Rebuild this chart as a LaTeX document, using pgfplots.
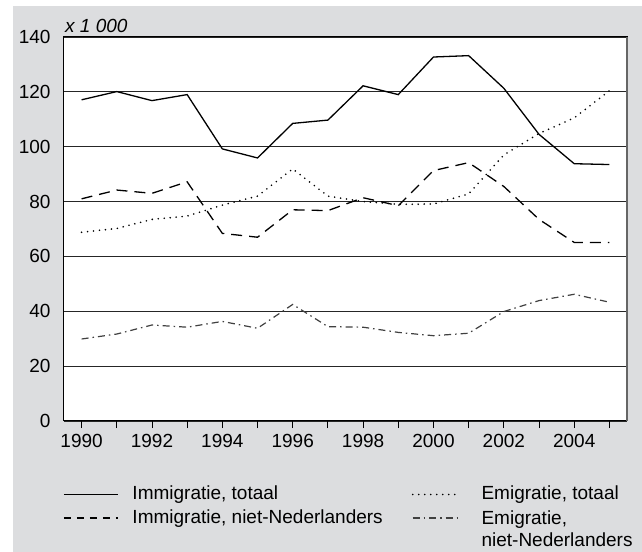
\documentclass[border=0pt]{standalone}
\usepackage{fontspec}
\setmainfont{Liberation Sans}
\usepackage{pgfplots}
\pgfplotsset{compat=1.18}
\definecolor{bg}{RGB}{220,221,223}
\pgfplotsset{
  longleg/.style={legend image code/.code={\draw[##1] (0bp,0bp) -- (54bp,0bp);}},
  dashleg/.style={legend image code/.code={\draw[##1, dash pattern=on 7bp off 6bp] (0bp,0bp) -- (54bp,0bp);}},
  shortleg/.style={legend image code/.code={\draw[##1] (0bp,0bp) -- (47bp,0bp); \path (54bp,0bp);}},
}
\begin{document}
\fontsize{19bp}{23bp}\selectfont
\begin{tikzpicture}[x=1bp,y=1bp]
\useasboundingbox (-64,-131) rectangle (578,421);
\fill[white] (-64,-131) rectangle (578,421);
\fill[bg] (-51,-131) rectangle (578,415);
\begin{axis}[
  at={(0,0)}, anchor=south west,
  scale only axis, width=563bp, height=384bp,
  xmin=1989.5, xmax=2005.5, ymin=0, ymax=140,
  clip mode=individual,
  axis background/.style={fill=white},
  axis line style={black, line width=1bp},
  ymajorgrids, grid style={black!85, line width=0.9bp},
  ytick={0,20,...,140}, ytick style={draw=none},
  xtick={1990,1992,...,2004}, minor xtick={1991,1993,...,2005},
  xtick pos=left, tick align=outside,
  major tick length=7bp, minor tick length=7bp,
  xtick style={black, line width=0.9bp},
  /pgf/number format/1000 sep={},
  /pgf/number format/assume math mode=true,
  ticklabel style={font=\fontsize{19bp}{23bp}\selectfont},
  legend columns=2, legend cell align=left,
  legend style={at={(0,0)}, anchor=north west, xshift=-1bp, yshift=-63bp,
    draw=none, fill=none, inner sep=0pt, row sep=2bp,
    font=\fontsize{19bp}{22bp}\selectfont,
    /tikz/every odd column/.append style={column sep=12bp},
    /tikz/every even column/.append style={column sep=27bp}},
]
\addplot[black, line width=1.3bp, longleg] coordinates {
(1990,117.1)(1991,120.1)(1992,116.8)(1993,119.0)(1994,99.2)(1995,95.9)(1996,108.5)(1997,109.7)
(1998,122.2)(1999,119.0)(2000,132.7)(2001,133.2)(2002,121.3)(2003,104.5)(2004,93.8)(2005,93.5)};
\addlegendentry{Immigratie, totaal}
\addplot[black, line width=1.8bp, line cap=round, dash pattern=on 0bp off 6bp, shortleg] coordinates {
(1990,68.8)(1991,70.2)(1992,73.5)(1993,74.7)(1994,78.7)(1995,82.0)(1996,91.9)(1997,82.0)
(1998,80.0)(1999,79.0)(2000,79.1)(2001,82.8)(2002,97.0)(2003,104.8)(2004,110.5)(2005,120.4)};
\addlegendentry{Emigratie, totaal}
\addplot[black, line width=1.3bp, dash pattern=on 11bp off 7bp, dashleg] coordinates {
(1990,81.0)(1991,84.2)(1992,83.0)(1993,87.2)(1994,68.4)(1995,67.0)(1996,77.0)(1997,76.7)
(1998,81.4)(1999,78.5)(2000,91.3)(2001,94.2)(2002,85.5)(2003,73.5)(2004,65.1)(2005,65.1)};
\addlegendentry{Immigratie, niet-Nederlanders}
\addplot[black!75, line width=1.2bp, dash pattern=on 7bp off 4bp on 1.5bp off 4bp, shortleg] coordinates {
(1990,29.9)(1991,31.7)(1992,35.0)(1993,34.2)(1994,36.3)(1995,33.8)(1996,42.5)(1997,34.4)
(1998,34.2)(1999,32.3)(2000,31.1)(2001,32.0)(2002,39.9)(2003,43.9)(2004,46.2)(2005,43.3)};
\addlegendentry{\begin{tabular}[t]{@{}l@{}}Emigratie,\\niet-Nederlanders\end{tabular}}
\draw[black!60, line width=2bp] (rel axis cs:1,0) -- (rel axis cs:1,1);
\node[anchor=base west, font=\itshape, inner sep=0pt] at (rel axis cs:0,1) [xshift=1bp, yshift=4bp] {x 1 000};
\end{axis}
\end{tikzpicture}
\end{document}
